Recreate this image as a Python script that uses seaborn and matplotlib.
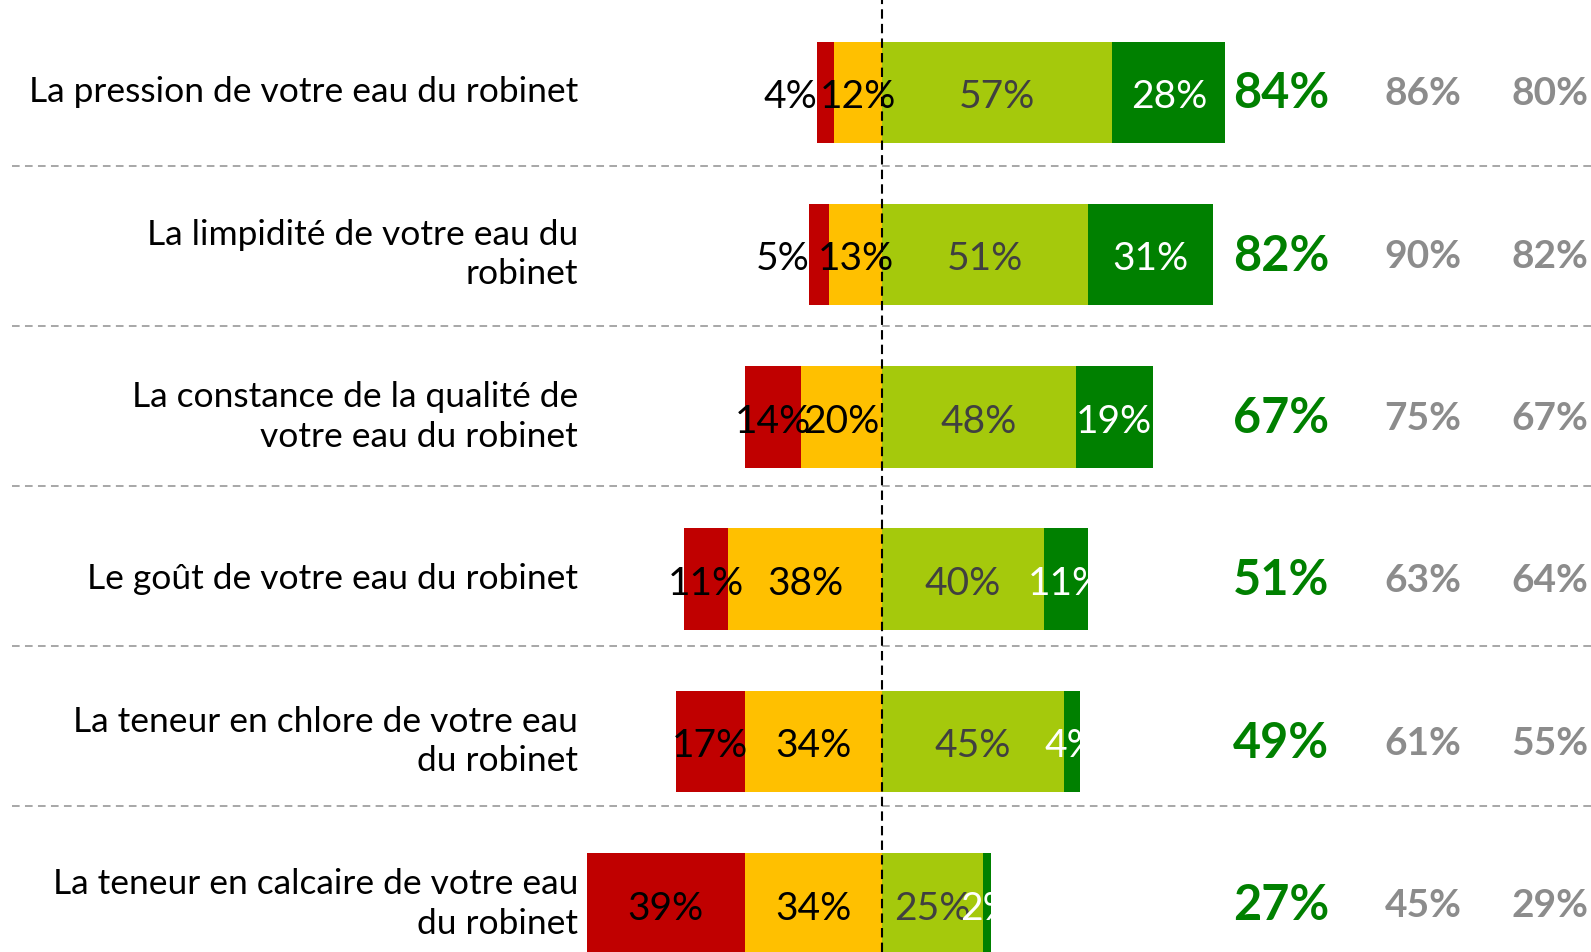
import numpy as np
import pandas as pd
import matplotlib
matplotlib.use("Agg")
import matplotlib.pyplot as plt
import seaborn as sns

# ---- data ----
categories = [
    "La pression de votre eau du robinet",
    "La limpidité de votre eau du\nrobinet",
    "La constance de la qualité de\nvotre eau du robinet",
    "Le goût de votre eau du robinet",
    "La teneur en chlore de votre eau\ndu robinet",
    "La teneur en calcaire de votre eau\ndu robinet",
]
pas_du_tout = [4, 5, 14, 11, 17, 39]
plutot_pas = [12, 13, 20, 38, 34, 34]
plutot = [57, 51, 48, 40, 45, 25]
tres = [28, 31, 19, 11, 4, 2]
total_satisf = [84, 82, 67, 51, 49, 27]
prev_1 = [86, 90, 75, 63, 61, 45]
prev_2 = [80, 82, 67, 64, 55, 29]

RED = "#C00000"
ORANGE = "#FFC000"
LGREEN = "#A5C90C"
DGREEN = "#008000"
GREY = "#8C8C8C"

sns.set_theme(style="white")
plt.rcParams["font.family"] = ["Lato", "DejaVu Sans"]
plt.rcParams["text.color"] = "black"

df = pd.DataFrame({
    "cat": categories,
    "red": pas_du_tout,
    "orange": plutot_pas,
    "lg": plutot,
    "dg": tres,
})
df["neg_total"] = -(df["red"] + df["orange"])
df["neg_orange"] = -df["orange"]
df["pos_total"] = df["lg"] + df["dg"]
df["pos_light"] = df["lg"]

W, H = 1591, 952
fig = plt.figure(figsize=(W / 100, H / 100), dpi=100)
ax = fig.add_axes([0, 0, 1, 1])

bw = 0.625
common = dict(data=df, y="cat", orient="h", ax=ax, errorbar=None,
              saturation=1, width=bw, linewidth=0)
sns.barplot(x="pos_total", color=DGREEN, **common)
sns.barplot(x="pos_light", color=LGREEN, **common)
sns.barplot(x="neg_total", color=RED, **common)
sns.barplot(x="neg_orange", color=ORANGE, **common)

# axis geometry: zero at x=882px, 4.04 px per %
pxp = 4.04
x0 = 882
ax.set_xlim(-x0 / pxp, (W - x0) / pxp)
row_px = 162.3
top_c = 92.3
ax.set_ylim((H - top_c) / row_px, -top_c / row_px)
ax.axis("off")

# zero dashed line
ax.axvline(0, color="black", lw=1.5, ls=(0, (4.5, 2.5)), zorder=6)

# separators (slightly tighter spacing than rows, as in the original)
sep_start, sep_step = 0.457, 0.9845
for k in range(len(categories) - 1):
    ax.axhline(sep_start + k * sep_step, xmin=12 / W, xmax=1, color="#8F8F8F",
               lw=1.1, ls=(0, (5, 3.5)), zorder=1)

fs = 28
for i in range(len(categories)):
    r, o, lg, dg = pas_du_tout[i], plutot_pas[i], plutot[i], tres[i]
    yc = i + 0.03
    if r < 8:
        ax.text(-(o + r), yc, f"{r}%", ha="right", va="center", fontsize=fs,
                color="black", zorder=7)
    else:
        ax.text(-(o + r / 2), yc, f"{r}%", ha="center", va="center", fontsize=fs,
                color="black", zorder=7)
    ax.text(-o / 2, yc, f"{o}%", ha="center", va="center", fontsize=fs,
            color="black", zorder=7)
    ax.text(lg / 2, yc, f"{lg}%", ha="center", va="center", fontsize=fs,
            color="#404040", zorder=7)
    ax.text(lg + dg / 2, yc, f"{dg}%", ha="center", va="center", fontsize=fs,
            color="white", zorder=7)
    # category label
    ax.text((578 - x0) / pxp, i + 0.0, categories[i], ha="right", va="center",
            fontsize=25.5, color="black", linespacing=1.3)
    # totals
    ax.text((1281 - x0) / pxp, i + 0.01, f"{total_satisf[i]}%", ha="center",
            va="center", fontsize=35, color=DGREEN, fontweight="bold")
    ax.text((1423 - x0) / pxp, i + 0.01, f"{prev_1[i]}%", ha="center",
            va="center", fontsize=28, color=GREY, fontweight="bold")
    ax.text((1550 - x0) / pxp, i + 0.01, f"{prev_2[i]}%", ha="center",
            va="center", fontsize=28, color=GREY, fontweight="bold")

fig.savefig("out.png", dpi=100, facecolor="white")
